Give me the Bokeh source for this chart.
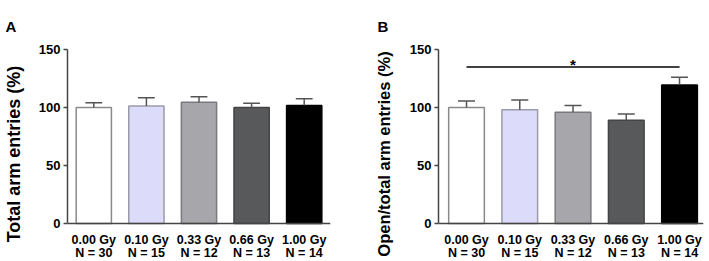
from bokeh.plotting import figure
from bokeh.layouts import row
from bokeh.models import FixedTicker, Range1d, Span
from bokeh.core.properties import value
from bokeh.embed import file_html
from bokeh.resources import INLINE

doses = ["0.00 Gy", "0.10 Gy", "0.33 Gy", "0.66 Gy", "1.00 Gy"]
n_animals = [30, 15, 12, 13, 14]
total_mean = [100, 101.4, 104.6, 100, 101.7]
total_sem = [4.0, 7.0, 4.6, 3.7, 5.8]
open_mean = [100, 98, 95.8, 89, 119.4]
open_sem = [5.5, 8.5, 6.0, 5.5, 6.6]
y_ticks = [0, 50, 100, 150]
sig_pair = [0, 4]
sig_y = 135

fills = ["#ffffff", "#dcdcfa", "#a7a7ab", "#58595b", "#000000"]
edges = ["#8a8a8a", "#9a9aa8", "#7a7a7e", "#444444", "#000000"]
FONT = "Liberation Sans"

# layout constants (pixels)
H = 258
TOP = 49          # canvas top -> value 150
AXIS_PX = 174     # value 150 -> value 0
BELOW_PX = H - TOP - AXIS_PX   # room under the x axis for the category labels
Y_HI = y_ticks[-1]
Y_LO = -BELOW_PX * Y_HI / AXIS_PX


def panel(means, sems, ylabel, letter, width, b_left, b_right, x_lo, x_hi,
          lab_size, lab_standoff, letter_dx):
    x = list(range(len(means)))
    p = figure(width=width, height=H,
               x_range=Range1d(x_lo, x_hi), y_range=Range1d(Y_LO, Y_HI),
               x_axis_location=None,
               output_backend="svg", toolbar_location=None,
               min_border_left=b_left, min_border_right=b_right,
               min_border_top=TOP, min_border_bottom=0)
    p.outline_line_color = None
    p.grid.visible = False

    # panel letter as a left-aligned title
    p.title.text = letter
    p.title.align = "left"
    p.title.vertical_align = "bottom"
    p.title.offset = letter_dx
    p.title.standoff = 30
    p.title.text_font = FONT
    p.title.text_font_style = "bold"
    p.title.text_font_size = "15px"
    p.title.text_color = "black"

    # x axis line at 0
    p.add_layout(Span(location=y_ticks[0], dimension="width", line_color="#444444", line_width=1.5))

    p.vbar(x=x, top=means, width=0.67, fill_color=fills, line_color=edges, line_width=1.5)
    tops = [m + s for m, s in zip(means, sems)]
    p.segment(x0=x, y0=means, x1=x, y1=tops, line_color="#555555", line_width=1.5)
    p.segment(x0=[xi - 0.16 for xi in x], y0=tops, x1=[xi + 0.16 for xi in x], y1=tops,
              line_color="#555555", line_width=1.5)

    # two-line category labels under the axis
    p.text(x=x, y=[y_ticks[0]] * len(x), text=doses, text_align="center",
           text_baseline="alphabetic", y_offset=16, text_font=value(FONT),
           text_font_style="bold", text_font_size="12.5px", text_color="black")
    p.text(x=x, y=[y_ticks[0]] * len(x), text=[f"N = {n}" for n in n_animals],
           text_align="center", text_baseline="alphabetic", y_offset=29,
           text_font=value(FONT), text_font_style="bold", text_font_size="12.5px",
           text_color="black")

    ya = p.yaxis[0]
    ya.bounds = (y_ticks[0], y_ticks[-1])
    ya.ticker = FixedTicker(ticks=y_ticks)
    ya.minor_tick_line_color = None
    ya.major_tick_out = 4
    ya.major_tick_in = 0
    ya.major_tick_line_width = 1.5
    ya.major_tick_line_color = "#444444"
    ya.axis_line_color = "#444444"
    ya.axis_line_width = 1.5
    ya.major_label_text_font = FONT
    ya.major_label_text_font_style = "bold"
    ya.major_label_text_font_size = "13px"
    ya.major_label_text_color = "black"
    ya.major_label_standoff = 3
    ya.axis_label = ylabel
    ya.axis_label_text_font = FONT
    ya.axis_label_text_font_style = "bold"
    ya.axis_label_text_font_size = lab_size
    ya.axis_label_text_color = "black"
    ya.axis_label_standoff = lab_standoff
    return p


pA = panel(total_mean, total_sem, "Total arm entries (%)", "A", 348, 67, 18, -0.5, 4.5,
           "18px", 12, -62)
pB = panel(open_mean, open_sem, "Open/total arm entries (%)", "B", 359, 90, 4, -0.526, 4.45,
           "16.5px", 14, -61)

pB.segment(x0=[sig_pair[0]], y0=[sig_y], x1=[sig_pair[1]], y1=[sig_y], line_color="black", line_width=1.5)
pB.text(x=[sum(sig_pair) / 2], y=[sig_y], text=["*"], text_align="center", text_baseline="alphabetic",
        y_offset=-2, text_font=value(FONT), text_font_style="bold", text_font_size="15px",
        text_color="black")

layout = row(pA, pB)
open("out.html", "w").write(file_html(layout, INLINE))
